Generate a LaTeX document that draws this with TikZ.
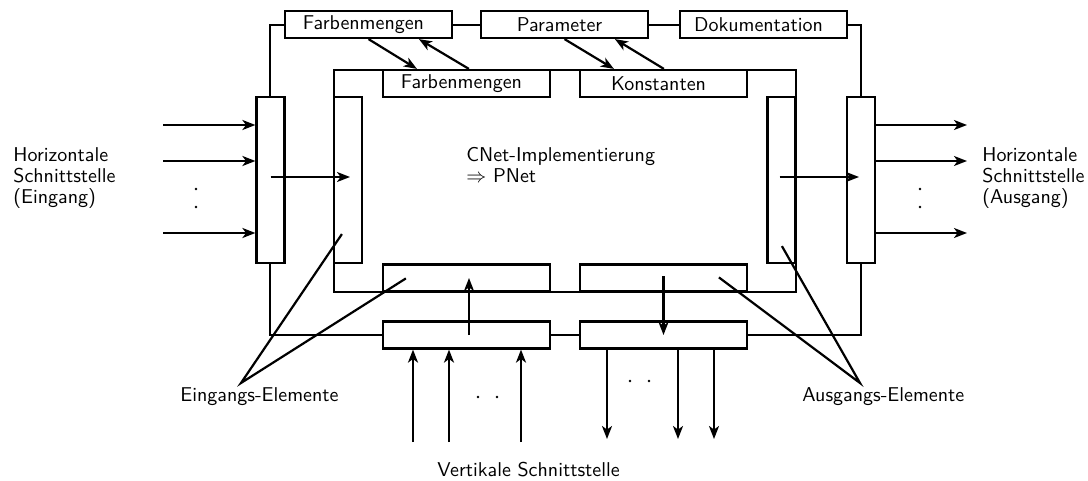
\documentclass[tikz,border=0pt]{standalone}
\usetikzlibrary{arrows.meta,calc}
\begin{document}
\begin{tikzpicture}[x=0.5pt,y=-0.5pt,
  every node/.style={font=\sffamily\fontsize{10pt}{10.5pt}\selectfont},
  box/.style={draw,fill=white,line width=1.1pt,inner sep=0pt},
  hbox/.style={box,minimum width=83.5pt,minimum height=13.5pt},
  tbox/.style={hbox,execute at begin node={\hspace*{-5pt}}},
  vbox/.style={box,minimum width=14pt,minimum height=83pt},
  frame/.style={line width=1.1pt},
  arr/.style={line width=1.1pt,-{Stealth[length=6.5pt,width=5pt,inset=1.8pt]}},
  pointer/.style={line width=1.1pt},
  lab/.style={inner sep=0pt,anchor=west},
  dotr/.style={radius=0.7pt}
]
\useasboundingbox (0,0) rectangle (1088,481);

% outer and inner frames
\draw[frame] (270,25) rectangle (861,335);
\draw[frame] (334,70) rectangle (796,292);

% boxes on the outer frame
\node[tbox] (tF) at (368.5,24.5) {Farbenmengen};
\node[tbox] (tP) at (564.5,24.5) {Parameter};
\node[tbox] (tD) at (763.5,24.5) {Dokumentation};
\node[hbox] (oBL) at (466.5,335) {};
\node[hbox] (oBR) at (663.5,335) {};
\node[vbox] (oL) at (270.5,180) {};
\node[vbox] (oR) at (861,180) {};

% boxes on the inner frame
\node[tbox] (iF) at (466.5,83.5) {Farbenmengen};
\node[tbox] (iK) at (663.5,83.5) {Konstanten};
\node[hbox] (iBL) at (466.5,278) {};
\node[hbox] (iBR) at (663.5,278) {};
\node[vbox] (iL) at (348,180) {};
\node[vbox] (iR) at (781.5,180) {};

% exchange between outer and inner top boxes
\draw[arr] (tF.south) -- ($(iF.north west)+(35,0)$);
\draw[arr] ($(iF.north west)+(87,0)$) -- ($(tF.south west)+(135,0)$);
\draw[arr] (tP.south) -- ($(iK.north west)+(35,0)$);
\draw[arr] ($(iK.north west)+(85,0)$) -- ($(tP.south west)+(135,0)$);

% flows through the elements
\draw[arr] ($(oL.center)+(0,-3)$) -- ($(iL.center)+(2,-3)$);
\draw[arr] ($(iR.center)+(-2,-3)$) -- ($(oR.center)+(-2,-3)$);
\draw[arr] ($(oBL.center)+(2.5,0)$) -- ($(iBL.center)+(2.5,0)$);
\draw[arr] ($(iBR.center)+(0,-2)$) -- (oBR.center);

% horizontal interface
\coordinate (in1) at (163,125);
\coordinate (in2) at (163,161);
\coordinate (in3) at (163,233);
\draw[arr] (in1) -- (in1 -| oL.west);
\draw[arr] (in2) -- (in2 -| oL.west);
\draw[arr] (in3) -- (in3 -| oL.west);
\coordinate (out1) at (967,125);
\coordinate (out2) at (967,161);
\coordinate (out3) at (967,233);
\draw[arr] (out1 -| oR.east) -- (out1);
\draw[arr] (out2 -| oR.east) -- (out2);
\draw[arr] (out3 -| oR.east) -- (out3);
\fill (196,189) circle[dotr];
\fill (196,207) circle[dotr];
\fill (920,189) circle[dotr];
\fill (920,207) circle[dotr];

% vertical interface
\coordinate (vin1) at (413,442);
\coordinate (vin2) at (449,442);
\coordinate (vin3) at (521,442);
\draw[arr] (vin1) -- (vin1 |- oBL.south);
\draw[arr] (vin2) -- (vin2 |- oBL.south);
\draw[arr] (vin3) -- (vin3 |- oBL.south);
\coordinate (vout1) at (607,439);
\coordinate (vout2) at (678,439);
\coordinate (vout3) at (714,439);
\draw[arr] (vout1 |- oBR.south) -- (vout1);
\draw[arr] (vout2 |- oBR.south) -- (vout2);
\draw[arr] (vout3 |- oBR.south) -- (vout3);
\fill (478,397) circle[dotr];
\fill (497,397) circle[dotr];
\fill (630,381) circle[dotr];
\fill (649,381) circle[dotr];

% pointers to the element labels
\coordinate (einpt) at (241,383);
\coordinate (auspt) at (860,383);
\draw[pointer] ($(iL.south west)+(9,-30)$) -- (einpt) -- ($(iBL.north west)+(24,15)$);
\draw[pointer] ($(iR.south west)+(15.5,-18)$) -- (auspt) -- ($(iBR.north west)+(140,14)$);

% labels
\node[lab] (einlab) at (180,397) {Eingangs-Elemente};
\node[lab] (auslab) at (802,397) {Ausgangs-Elemente};
\node[lab] (vlab) at (437,470) {Vertikale Schnittstelle};
\node[lab,align=left] (hin) at (13,178) {Horizontale\\Schnittstelle\\(Eingang)};
\node[lab,align=left] (hout) at (982,178) {Horizontale\\Schnittstelle\\(Ausgang)};
\node[lab,align=left] (cnet) at (466,165) {CNet-Implementierung\\$\Rightarrow$ PNet};
\end{tikzpicture}
\end{document}
